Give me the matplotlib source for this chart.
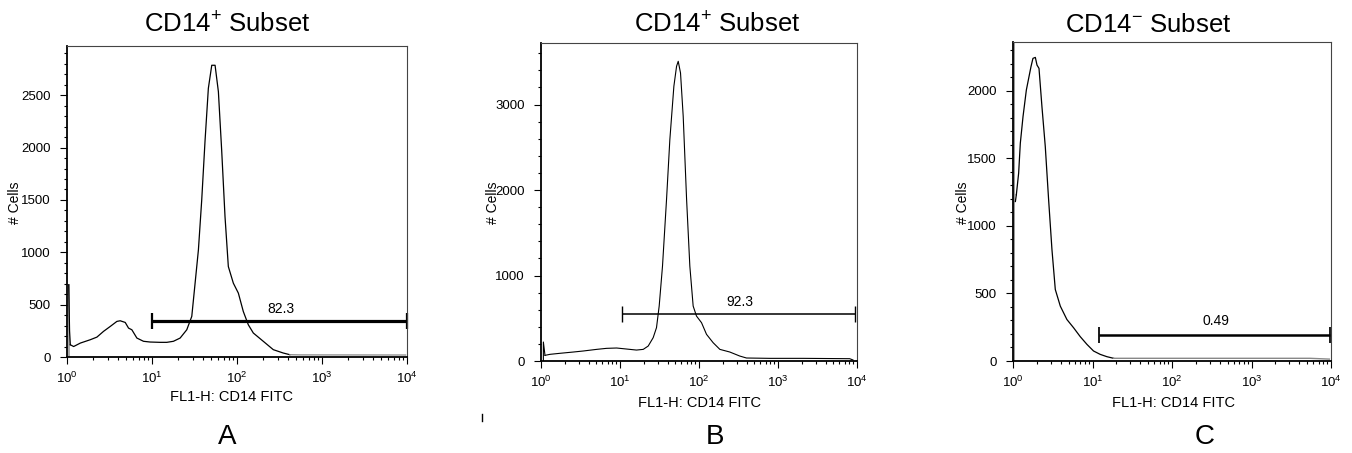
import numpy as np
import matplotlib
matplotlib.use("Agg")
import matplotlib.pyplot as plt
from matplotlib.ticker import MultipleLocator, LogLocator
from matplotlib.lines import Line2D

plt.rcParams['font.family'] = ['Liberation Sans', 'DejaVu Sans']
plt.rcParams['mathtext.fontset'] = 'custom'
plt.rcParams['mathtext.rm'] = 'Liberation Sans'
plt.rcParams['mathtext.it'] = 'Liberation Sans'

# histogram traces, x read as log10(FL1-H), y as # cells
a_log = [0.039, 0.078, 0.157, 0.274, 0.352, 0.43, 0.509, 0.587, 0.626, 0.685,
         0.724, 0.763, 0.822, 0.9, 0.978, 1.096, 1.174, 1.252, 1.331, 1.409,
         1.468, 1.507, 1.546, 1.585, 1.624, 1.663, 1.703, 1.742, 1.781, 1.82,
         1.859, 1.898, 1.957, 2.016, 2.074, 2.133, 2.192, 2.309, 2.427, 2.544,
         2.622]
a_cells = [117, 100, 133, 165, 190, 245, 292, 340, 346, 330,
           276, 260, 181, 150, 143, 140, 140, 150, 181, 260,
           388, 705, 1023, 1500, 2065, 2566, 2786, 2786, 2534, 1970,
           1340, 864, 705, 610, 435, 308, 229, 150, 70, 38,
           22]
a_tail_log = [2.622, 2.74, 3.984]
a_tail_cells = [22, 20, 19]
a_spike = 690

b_log = [0.0506, 0.114, 0.24, 0.409, 0.535, 0.704, 0.83, 0.957, 1.083, 1.209,
         1.294, 1.357, 1.42, 1.462, 1.496, 1.538, 1.589, 1.631, 1.682, 1.716,
         1.737, 1.766, 1.8, 1.843, 1.884, 1.926, 1.968, 2.032, 2.095, 2.179,
         2.264, 2.39, 2.516, 2.601, 2.896, 3.317, 3.907, 3.949]
b_cells = [66, 78, 90, 105, 117, 136, 148, 152, 140, 128,
           136, 175, 273, 390, 643, 1110, 1889, 2590, 3214, 3448,
           3506, 3370, 2863, 1889, 1110, 643, 526, 448, 312, 214,
           136, 105, 58, 35, 31, 31, 27, 12]
b_spike = 222

c_log = [0.042, 0.071, 0.092, 0.126, 0.168, 0.197, 0.226, 0.251, 0.281, 0.302,
         0.327, 0.364, 0.406, 0.448, 0.49, 0.532, 0.595, 0.678, 0.762, 0.846,
         0.93, 1.013, 1.097, 1.181, 1.265]
c_cells = [1230, 1390, 1611, 1808, 2005, 2091, 2177, 2239, 2246, 2189,
           2165, 1882, 1587, 1193, 824, 529, 406, 307, 246, 180,
           123, 74, 49, 32, 20]
c_tail_log = [1.265, 3.736, 3.979]
c_tail_cells = [20, 20, 14]

# gates: start, end, height, label
gates = [(10.0, 1e4, 345, '82.3'), (10.5, 9550, 546, '92.3'), (12.0, 9800, 190, '0.49')]
gate_label_y = [460, 690, 295]
titles = ['CD14$^{+}$ Subset', 'CD14$^{+}$ Subset', 'CD14$^{-}$ Subset']
letters = ['A', 'B', 'C']
ymax = [2970, 3720, 2360]
ymajor = [500, 1000, 500]
yminor = [100, 200, 100]

W, H = 1352, 453
fig = plt.figure(figsize=(W / 100, H / 100), dpi=100)

# axes boxes in pixels: left, right, top, bottom
boxes = [(67, 407, 46, 357), (541, 857, 43, 361), (1013, 1331, 42, 361)]
title_x = [227, 717, 1148]
letter_x = [227, 715, 1205]
ylab_x = [15, 493, 963]
xlab = [(232, 397), (700, 403), (1173, 403)]
gate_lw = [2.3, 1.1, 1.8]

axes = []
for i, (l, r, t, b) in enumerate(boxes):
    ax = fig.add_axes([l / W, 1 - b / H, (r - l) / W, (b - t) / H])
    axes.append(ax)
    ax.set_xscale('log')
    ax.set_xlim(1, 1e4)
    ax.set_ylim(0, ymax[i])
    ax.yaxis.set_major_locator(MultipleLocator(ymajor[i]))
    ax.yaxis.set_minor_locator(MultipleLocator(yminor[i]))
    ax.xaxis.set_major_locator(LogLocator(base=10))
    ax.xaxis.set_minor_locator(LogLocator(base=10, subs=np.arange(2, 10)))
    ax.tick_params(which='both', direction='out', top=False, right=False,
                   width=0.8, color='black')
    ax.tick_params(which='major', length=5)
    ax.tick_params(which='minor', length=2.4)
    ax.tick_params(axis='y', pad=6.5, labelsize=9.5)
    ax.tick_params(axis='x', pad=5, labelsize=9.5)
    for s in ['left', 'bottom']:
        ax.spines[s].set_linewidth(1.3)
    for s in ['top', 'right']:
        ax.spines[s].set_linewidth(0.8)
        ax.spines[s].set_color('#444444')

    fig.text(title_x[i] / W, 1 - 25 / H, titles[i], fontsize=18.5,
             ha='center', va='center')
    fig.text(letter_x[i] / W, 1 - 437 / H, letters[i], fontsize=20,
             ha='center', va='center')
    fig.text(ylab_x[i] / W, 1 - 203 / H, '# Cells', fontsize=10,
             rotation=90, ha='center', va='center')
    fig.text(xlab[i][0] / W, 1 - xlab[i][1] / H, 'FL1-H: CD14 FITC',
             fontsize=10.5, ha='center', va='center')

    g0, g1, gy, gl = gates[i]
    ax.plot([g0, g1], [gy, gy], color='black', lw=gate_lw[i], solid_capstyle='butt')
    ax.plot([g0, g1], [gy, gy], ls='none', marker='|', ms=11.5,
            mew=max(gate_lw[i] * 0.7, 1.0), color='black', clip_on=False)
    ax.text(np.sqrt(g0 * g1) * 1.05, gate_label_y[i], gl, fontsize=10,
            ha='center', va='center')

ax = axes[0]
ax.plot([10 ** 0.02, 10 ** 0.02], [0, a_spike], color='#999999', lw=1.2)
ax.plot([10 ** 0.02, 10 ** 0.03, 10 ** 0.039], [a_spike, 250, a_cells[0]],
        color='black', lw=0.9)
ax.plot(10 ** np.array(a_log), a_cells, color='black', lw=0.9)
ax.plot(10 ** np.array(a_tail_log), a_tail_cells, color='#888888', lw=0.9)

ax = axes[1]
ax.plot([10 ** 0.03, 10 ** 0.03, 10 ** 0.0506], [0, b_spike, b_cells[0]],
        color='black', lw=0.8)
ax.plot(10 ** np.array(b_log), b_cells, color='black', lw=0.8)

ax = axes[2]
ax.plot([10 ** 0.017, 10 ** 0.017], [0, ymax[2]], color='#999999', lw=1.4)
ax.plot([10 ** 0.03, 10 ** 0.042], [ymax[2] * 0.5, c_cells[0]], color='black', lw=0.9)
ax.plot(10 ** np.array(c_log), c_cells, color='black', lw=0.9)
ax.plot(10 ** np.array(c_tail_log), c_tail_cells, color='#888888', lw=1.0)

# stray mark near the middle
fig.add_artist(Line2D([482 / W, 482 / W], [1 - 414 / H, 1 - 421 / H],
                      color='black', lw=1.0))

fig.savefig('out.png', dpi=100)
